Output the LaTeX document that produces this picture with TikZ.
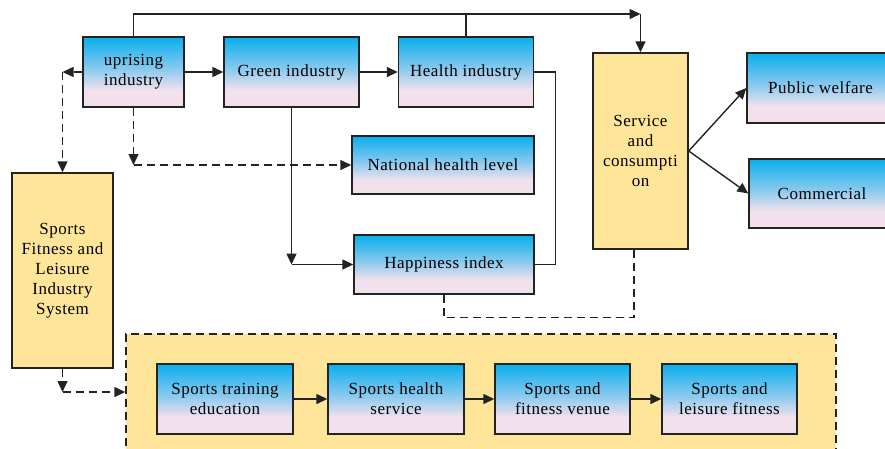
\documentclass[tikz,border=0pt]{standalone}
\usepackage{fontspec}
\setmainfont{Liberation Serif}[LetterSpace=3]
\usetikzlibrary{arrows.meta}
\definecolor{bluec}{RGB}{8,174,236}
\definecolor{midc}{RGB}{140,202,238}
\definecolor{pinkc}{RGB}{242,225,237}
\definecolor{yellowc}{RGB}{255,229,153}
\definecolor{linec}{RGB}{35,35,35}
% blue at the top fading into a pale pink lower part
\pgfdeclareverticalshading{boxgrad}{100bp}{color(0bp)=(pinkc); color(37bp)=(pinkc); color(52bp)=(midc); color(75bp)=(bluec); color(100bp)=(bluec)}

\begin{document}
\begin{tikzpicture}[x=1pt,y=-1pt,
  font=\fontsize{17}{20}\selectfont,
  box/.style={draw=linec, line width=1.4pt, shading=boxgrad, inner sep=0pt, align=center},
  ybox/.style={draw=linec, line width=1.4pt, fill=yellowc, inner sep=0pt, align=center},
  arr/.style={draw=linec, line width=1.4pt, -{Triangle[length=11pt,width=10pt]}},
  darr/.style={arr, dash pattern=on 8pt off 5pt},
  dline/.style={draw=linec, line width=1.4pt, dash pattern=on 8pt off 5pt},
  link/.style={draw=linec, line width=1.4pt}]
\useasboundingbox (0,0) rectangle (885,448);
\clip (0,0) rectangle (885,448);

% upper row of industries
\node[box, minimum width=101pt, minimum height=70pt] (up) at (133.5,72) {uprising\\industry};
\node[box, minimum width=135pt, minimum height=70pt] (green) at (291.5,72) {Green industry};
\node[box, minimum width=135pt, minimum height=70pt] (health) at (466,72) {Health industry};
\node[box, minimum width=182pt, minimum height=58pt] (natl) at (443,165) {National health level};
\node[box, minimum width=180pt, minimum height=59pt] (happy) at (444,264.5) {Happiness index};

% consumption and its two outlets
\node[ybox, minimum width=95pt, minimum height=196pt] (service) at (640.5,151) {Service\\and\\consumpti\\on};
\node[box, minimum width=147pt, minimum height=70pt] (public) at (820.5,88) {Public welfare};
\node[box, minimum width=146pt, minimum height=69pt] (comm) at (822,193.5) {Commercial};

% overall system
\node[ybox, minimum width=101pt, minimum height=195pt] (sfl) at (62.5,270.5) {Sports\\Fitness and\\Leisure\\Industry\\System};

% lower panel with the service chain
\node[ybox, dash pattern=on 8pt off 5pt, minimum width=710pt, minimum height=140pt] (panel) at (481,404) {};
\node[box, minimum width=136pt, minimum height=70pt] (ste) at (225,399) {Sports training\\education};
\node[box, minimum width=136pt, minimum height=70pt] (shs) at (396,399) {Sports health\\service};
\node[box, minimum width=135pt, minimum height=70pt] (sfv) at (562.5,399) {Sports and\\fitness venue};
\node[box, minimum width=135pt, minimum height=70pt] (slf) at (729.5,399) {Sports and\\leisure fitness};

% turning points
\coordinate (topturn) at (640.5,14);
\coordinate (gturn) at (green.south |- happy.west);
\coordinate (uturn) at (up.south |- natl.west);
\coordinate (lturn) at (sfl.north |- up.west);
\coordinate (bturn) at (62.5,392);

% solid connectors
\draw[arr] (up.east) -- (green.west);
\draw[arr] (green.east) -- (health.west);
\draw[arr] (up.north) |- (topturn);
\draw[link] (health.north) -- (health.north |- topturn);
\draw[arr] (topturn) -- (service.north);
\draw[link] (health.east) -- ++(21,0) |- (happy.east);
\draw[arr] (green.south) -- (gturn);
\draw[arr] (gturn) -- (happy.west);
\draw[arr] (service.east) -- (public.west);
\draw[arr] (service.east) -- (comm.west);
\draw[arr] (ste) -- (shs);
\draw[arr] (shs) -- (sfv);
\draw[arr] (sfv) -- (slf);

% dashed connectors
\draw[darr] (up.south) -- (uturn);
\draw[darr] (uturn) -- (natl.west);
\draw[darr] (up.west) -- (lturn);
\draw[darr] (lturn) -- (sfl.north);
\draw[darr] (sfl.south) -- (bturn);
\draw[darr] (bturn) -- (panel.west |- bturn);
\draw[dline] (happy.south) -- ++(0,23) -| ([xshift=-6.5pt]service.south);
\end{tikzpicture}
\end{document}
